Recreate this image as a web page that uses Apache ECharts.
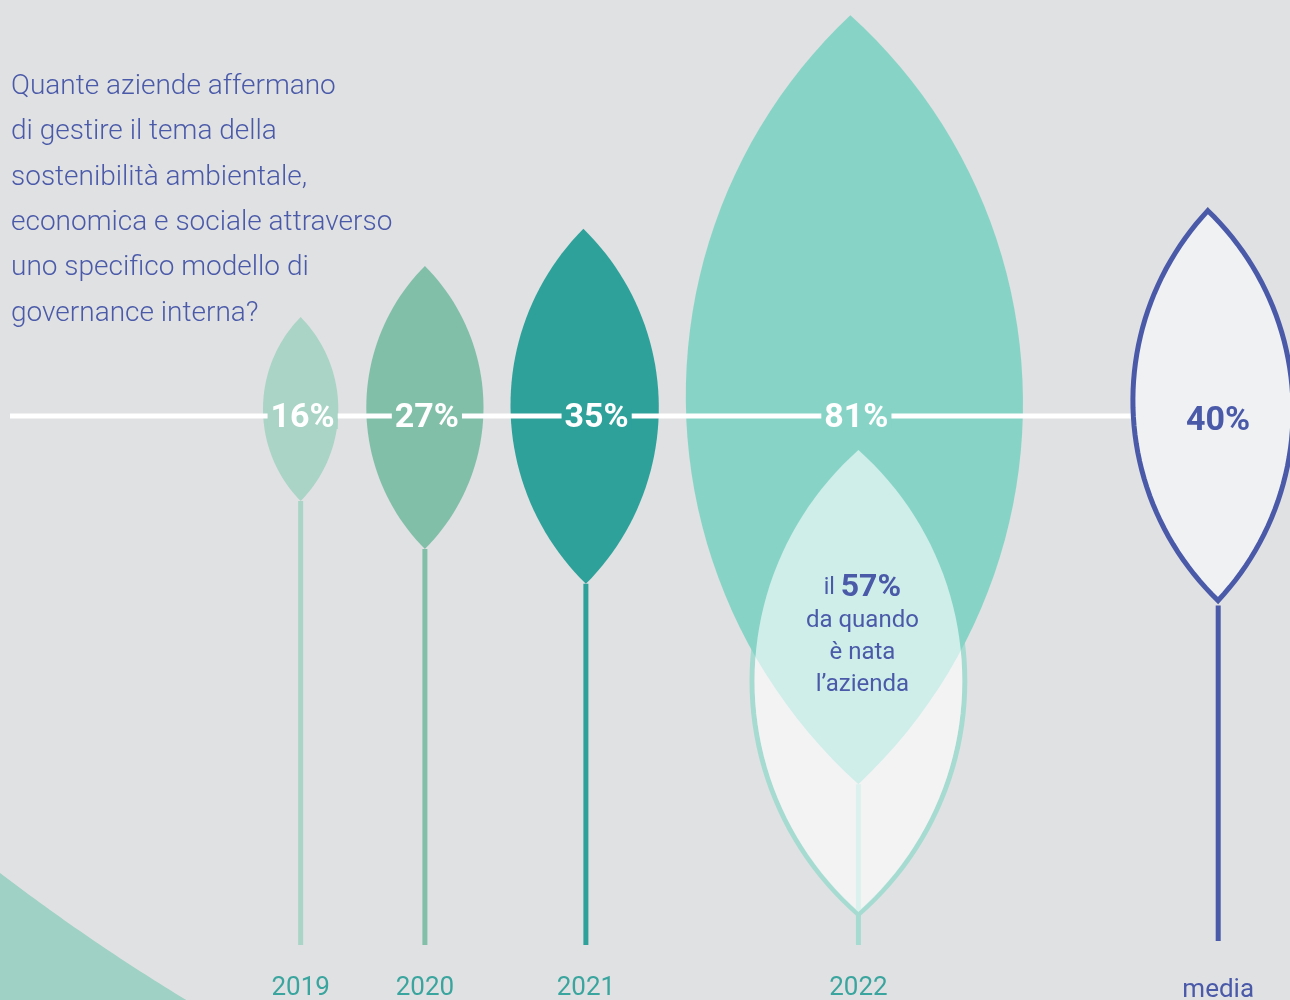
<!DOCTYPE html>
<html><head><meta charset="utf-8">
<script src="https://cdn.jsdelivr.net/npm/echarts@6/dist/echarts.min.js"></script>
<style>html,body{margin:0;padding:0;background:#e0e1e3}#c{width:1290px;height:1000px}</style>
</head><body><div id="c"></div>
<script>
// ---------------- data ----------------
const categories = ['2019', '2020', '2021', '2022', 'media'];
const values = [16, 27, 35, 81, 40];
const valueLabels = ['16%', '27%', '35%', '81%', '40%'];
const sinceFoundingValue = 57;
const sinceFoundingLabel = '57%';
const sinceFoundingText = ['da quando', 'è nata', 'l’azienda'];
const questionLines = [
  'Quante aziende affermano',
  'di gestire il tema della',
  'sostenibilità ambientale,',
  'economica e sociale attraverso',
  'uno specifico modello di',
  'governance interna?'
];

// ---------------- styles ----------------
const BG = '#e0e1e3';
const INDIGO = '#4a5aa9';
const TEAL_TXT = '#3aa59e';
const leafColors = ['#a9d4c6', '#82bfa9', '#2ea19b', '#87d4c7'];
const stemColors = ['#a9d4c6', '#82bfa9', '#2ea19b', '#a6dbd1'];
const FONT = 'Roboto, "Noto Sans", sans-serif';

// ---------------- layout (size from value) ----------------
const leafH = v => 9 * v + 40;
const leafW = v => { const h = leafH(v); return 0.40 * h + 0.00005 * h * h; };
const leafCY = v => 412 - 0.016 * leafH(v);
const tiltDeg = [0, 0, 0.4, 0.6, 1.5];
const gaps = [0, 28, 27, 27, 106];
const centers = [];
let cursor = 263;
values.forEach((v, i) => { cursor += gaps[i]; centers.push(cursor + leafW(v) / 2); cursor += leafW(v); });
const STEM_BOTTOM = 945, LINE_Y = 416;

function leafPts(api, cx, cy, w, h, tilt) {
  const a = w / 2, b = h / 2, R = (a * a + b * b) / (2 * a), th = Math.asin(b / R), n = 48;
  const phi = tilt * Math.PI / 180, c = Math.cos(phi), s = Math.sin(phi);
  const pts = [];
  const push = (dx, dy) => pts.push(api.coord([cx + dx * c + dy * s, cy - dx * s + dy * c]));
  for (let i = 0; i <= n; i++) { const t = -th + 2 * th * i / n; push(a - R + R * Math.cos(t), R * Math.sin(t)); }
  for (let i = 1; i < n; i++) { const t = th - 2 * th * i / n; push(-(a - R + R * Math.cos(t)), R * Math.sin(t)); }
  return pts;
}
function bottomTip(i) {
  const v = values[i], phi = tiltDeg[i] * Math.PI / 180, b = leafH(v) / 2;
  return [centers[i] + b * Math.sin(phi), leafCY(v) + b * Math.cos(phi)];
}
// 57% leaf hangs under the 2022 leaf
const subH = leafH(sinceFoundingValue) * 0.835;
const subW = subH * 0.45;
const subCX = () => bottomTip(3)[0];
const subCY = 681;

// decorative corner shape (smooth curve)
const cornerPts = [];
for (let x = 0; x <= 200; x += 5) cornerPts.push([x, 873 + 0.76 * x - 0.00042 * x * x]);
cornerPts.push([0, 1000]);

const yearData = values.slice(0, 4).map((v, i) => [i, v]);

const chart = echarts.init(document.getElementById('c'), null, { renderer: 'canvas' });
chart.setOption({
  backgroundColor: BG,
  animation: false,
  grid: { left: 0, right: 0, top: 0, bottom: 0 },
  xAxis: { type: 'value', min: 0, max: 1290, show: false },
  yAxis: { type: 'value', min: 0, max: 1000, inverse: true, show: false },
  graphic: [
    { type: 'polygon', z: 0, shape: { points: cornerPts }, style: { fill: '#9fd1c4' } },
    { type: 'line', z: 5, shape: { x1: 10, y1: LINE_Y, x2: centers[4], y2: LINE_Y }, style: { stroke: '#ffffff', lineWidth: 5 } },
    ...questionLines.map((t, k) => ({
      type: 'text', z: 5, x: 11, y: 87 + k * 45.3,
      style: { text: t, fill: INDIGO, font: '300 28px ' + FONT, verticalAlign: 'middle', align: 'left' }
    }))
  ],
  series: [
    { // stems of yearly leaves
      type: 'custom', z: 1, data: yearData,
      renderItem: (p, api) => {
        const i = api.value(0), tip = bottomTip(i);
        const p1 = api.coord(tip), p2 = api.coord([tip[0], STEM_BOTTOM]);
        return { type: 'line', shape: { x1: p1[0], y1: p1[1], x2: p2[0], y2: p2[1] }, style: { stroke: stemColors[i], lineWidth: 5 } };
      }
    },
    { // 57% leaf outline (under the 2022 leaf)
      type: 'custom', z: 2, data: [[0, sinceFoundingValue]],
      renderItem: (p, api) => ({
        type: 'polygon', shape: { points: leafPts(api, subCX(), subCY, subW + 5, subH + 5, 0) },
        style: { fill: 'none', stroke: '#a6dbd1', lineWidth: 5 }
      })
    },
    { // yearly leaves
      type: 'custom', z: 3, data: yearData,
      renderItem: (p, api) => {
        const i = api.value(0), v = api.value(1);
        return { type: 'polygon', shape: { points: leafPts(api, centers[i], leafCY(v), leafW(v), leafH(v), tiltDeg[i]) }, style: { fill: leafColors[i] } };
      }
    },
    { // 57% leaf translucent fill + text
      type: 'custom', z: 4, data: [[0, sinceFoundingValue]],
      renderItem: (p, api) => {
        const c = api.coord([subCX() + 4, 636]);
        return {
          type: 'group', children: [
            { type: 'polygon', shape: { points: leafPts(api, subCX(), subCY, subW, subH, 0) }, style: { fill: 'rgba(255,255,255,0.6)' } },
            {
              type: 'text', x: c[0], y: c[1],
              style: {
                text: '{a|il }{b|' + sinceFoundingLabel + '}\n' + sinceFoundingText.map(t => '{c|' + t + '}').join('\n'),
                align: 'center', verticalAlign: 'middle', fill: INDIGO,
                rich: {
                  a: { fontSize: 23, fontFamily: FONT, fill: INDIGO, lineHeight: 34 },
                  b: { fontSize: 32, fontWeight: 'bold', fontFamily: FONT, fill: INDIGO, lineHeight: 34 },
                  c: { fontSize: 24, fontFamily: FONT, fill: INDIGO, lineHeight: 32 }
                }
              }
            }
          ]
        };
      }
    },
    { // value labels on the line
      type: 'custom', z: 6, data: yearData,
      renderItem: (p, api) => {
        const i = api.value(0), c = api.coord([centers[i] + (i === 2 ? 12 : 2), 418]);
        return {
          type: 'text', x: c[0], y: c[1],
          style: { text: valueLabels[i], fill: '#ffffff', font: 'bold 34px ' + FONT, lineHeight: 22, align: 'center', verticalAlign: 'middle', backgroundColor: leafColors[i], padding: [0, 3] }
        };
      }
    },
    { // media leaf
      type: 'custom', z: 7, data: [[4, values[4]]],
      renderItem: (p, api) => {
        const i = api.value(0), v = api.value(1), tip = bottomTip(i);
        const p1 = api.coord(tip), p2 = api.coord([tip[0], 941]);
        const c = api.coord([centers[i] + 5, 421]);
        return {
          type: 'group', children: [
            { type: 'line', shape: { x1: p1[0], y1: p1[1], x2: p2[0], y2: p2[1] }, style: { stroke: INDIGO, lineWidth: 5 } },
            { type: 'polygon', shape: { points: leafPts(api, centers[i], leafCY(v), leafW(v) - 8, leafH(v) - 10, tiltDeg[i]) }, style: { fill: '#eff1f3', stroke: INDIGO, lineWidth: 5 } },
            { type: 'text', x: c[0], y: c[1], style: { text: valueLabels[i], fill: INDIGO, font: 'bold 34px ' + FONT, align: 'center', verticalAlign: 'middle' } }
          ]
        };
      }
    },
    { // category labels
      type: 'custom', z: 8, data: values.map((v, i) => [i, v]),
      renderItem: (p, api) => {
        const i = api.value(0), tip = bottomTip(i);
        const c = api.coord([tip[0], i === 4 ? 990 : 988]);
        return { type: 'text', x: c[0], y: c[1], style: { text: categories[i], fill: i === 4 ? INDIGO : TEAL_TXT, font: '26px ' + FONT, align: 'center', verticalAlign: 'middle' } };
      }
    }
  ]
});
</script></body></html>
